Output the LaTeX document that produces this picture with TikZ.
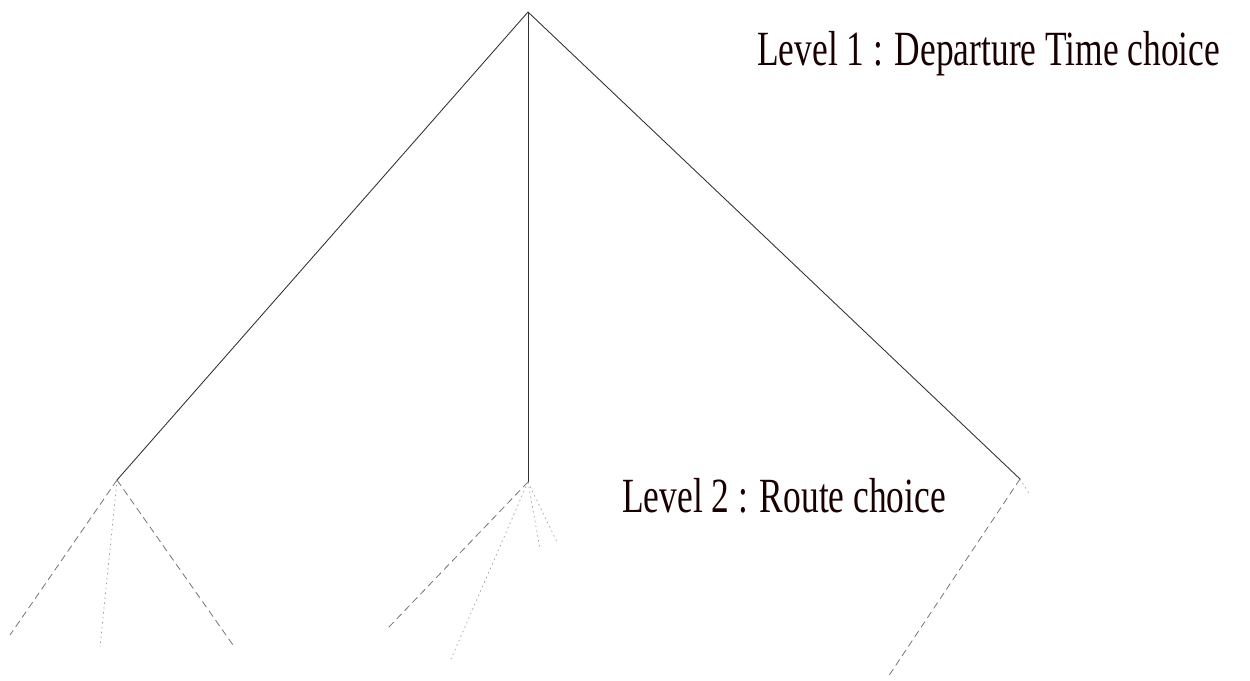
\documentclass[tikz,border=0pt]{standalone}
\usepackage{fontspec}
\setmainfont{Liberation Serif}
\tikzset{
  branch/.style={black!80, line width=0.5pt},
  altdash/.style={black!55, line width=0.45pt, dash pattern=on 4pt off 2.5pt},
  altdot/.style={black!40, line width=0.4pt, dash pattern=on 0.8pt off 2pt},
  levellabel/.style={font=\fontsize{28}{32}\selectfont, inner sep=0pt, xscale=0.72, text=black!90!red}
}
\begin{document}
\begin{tikzpicture}[x=0.02cm,y=-0.02cm]
\useasboundingbox (0,0) rectangle (1250,680);
% level 1 nodes
\coordinate (root) at (528,12);
\coordinate (dtA) at (117,480);
\coordinate (dtB) at (528,482);
\coordinate (dtC) at (1020,479);
% level 2 ends
\coordinate (rA1) at (10,635);
\coordinate (rA2) at (100,647);
\coordinate (rA3) at (233,645);
\coordinate (rB1) at (388,628);
\coordinate (rB2) at (451,659);
\coordinate (rB3) at (540,549);
\coordinate (rB4) at (557,542);
\coordinate (rC1) at (888,677);
\coordinate (rC2) at (1030,495);
\draw[branch] (root) -- (dtA);
\draw[branch] (root) -- (dtB);
\draw[branch] (root) -- (dtC);
\draw[altdash] (dtA) -- (rA1);
\draw[altdot] (dtA) -- (rA2);
\draw[altdash] (dtA) -- (rA3);
\draw[altdash] (dtB) -- (rB1);
\draw[altdot] (dtB) -- (rB2);
\draw[altdot] (dtB) -- (rB3);
\draw[altdot] (dtB) -- (rB4);
\draw[altdash] (dtC) -- (rC1);
\draw[altdot] (dtC) -- (rC2);
\node[levellabel, anchor=west] (lvl1) at (757,54) {Level 1 : Departure Time choice};
\node[levellabel, anchor=west] (lvl2) at (622,496) {Level 2 : Route choice};
\end{tikzpicture}
\end{document}
